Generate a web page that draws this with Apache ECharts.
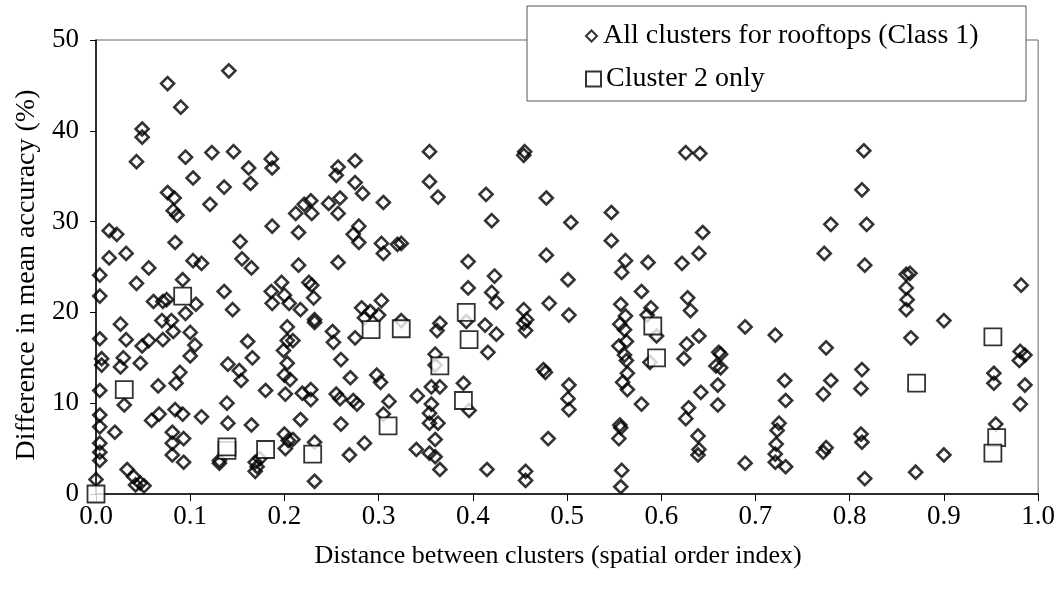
<!DOCTYPE html>
<html>
<head>
<meta charset="utf-8">
<script src="https://cdn.jsdelivr.net/npm/echarts@6/dist/echarts.min.js"></script>
<style>
  html, body { margin: 0; padding: 0; background: #fff; }
  #chart { width: 1058px; height: 599px; }
</style>
</head>
<body>
<div id="chart"></div>
<script>
// Axis ticks
const xTicks = [0, 0.1, 0.2, 0.3, 0.4, 0.5, 0.6, 0.7, 0.8, 0.9, 1.0];
const yTicks = [0, 10, 20, 30, 40, 50];

// All clusters for rooftops (Class 1): [distance, difference %], grouped by distance band
const rooftops00 = [
  [0.000,1.6],[0.004,3.7],[0.004,4.6],[0.004,5.6],[0.004,7.4],[0.004,8.7],[0.004,11.4],[0.006,14.2],[0.006,14.9],[0.004,17.1],[0.004,21.8],[0.004,24.1],
  [0.014,29.0],[0.022,28.6],[0.014,26.0],[0.020,6.8],[0.026,18.7],[0.026,14.0],[0.029,15.0],[0.032,26.5],[0.030,9.8],[0.033,2.7],[0.040,1.9],[0.042,1.0],
  [0.047,1.2],[0.051,0.9],[0.043,23.2],[0.032,17.0],[0.043,36.6],[0.049,40.2],[0.049,39.3],[0.049,16.3],[0.047,14.4],[0.056,24.9],[0.056,16.9],[0.059,8.1],
  [0.061,21.2],[0.067,8.8],[0.066,11.9],[0.070,19.1],[0.071,21.2],[0.075,21.4],[0.071,17.0],[0.076,45.2],[0.076,33.2],[0.083,32.6],[0.082,31.2],[0.086,30.7],
  [0.084,27.7],[0.080,19.1],[0.082,17.9],[0.085,12.2],[0.089,13.4],[0.084,9.3],[0.092,8.8],[0.081,6.8],[0.093,6.1],[0.081,5.6],[0.081,4.3],[0.093,3.5],
  [0.090,42.6],[0.092,23.6],[0.095,19.9],[0.095,37.1]
];
const rooftops01 = [
  [0.100,17.8],[0.105,16.4],[0.100,15.2],[0.106,20.9],[0.103,34.8],[0.103,25.7],[0.112,25.4],[0.112,8.5],[0.121,31.9],[0.123,37.6],[0.136,33.8],[0.136,22.3],
  [0.139,10.0],[0.140,7.8],[0.131,3.4],[0.131,3.7],[0.140,14.3],[0.141,46.6],[0.145,20.3],[0.146,37.7],[0.152,13.6],[0.154,12.5],[0.153,27.8],[0.155,25.9],
  [0.161,16.8],[0.162,35.9],[0.164,34.2],[0.165,24.9],[0.166,15.0],[0.165,7.6],[0.169,3.5],[0.169,2.5],[0.171,3.0],[0.174,3.9],[0.180,11.4],[0.186,22.3],
  [0.187,21.0],[0.186,36.9],[0.187,35.9],[0.187,29.5],[0.197,23.3]
];
const rooftops02 = [
  [0.200,21.9],[0.205,21.0],[0.203,18.4],[0.209,16.9],[0.203,16.9],[0.199,15.8],[0.203,14.4],[0.200,13.1],[0.206,12.6],[0.201,11.0],[0.200,6.6],[0.201,5.0],
  [0.209,6.0],[0.204,5.9],[0.212,30.9],[0.215,28.8],[0.215,25.2],[0.217,20.3],[0.219,11.1],[0.217,8.2],[0.221,31.9],[0.228,32.3],[0.229,30.9],[0.226,23.3],
  [0.229,23.0],[0.231,21.6],[0.232,19.2],[0.232,18.9],[0.228,11.5],[0.228,10.4],[0.232,5.7],[0.232,1.4],[0.247,32.0],[0.255,35.1],[0.257,36.0],[0.257,30.9],
  [0.259,32.6],[0.257,25.5],[0.251,17.9],[0.252,16.7],[0.260,14.8],[0.255,11.0],[0.259,10.5],[0.260,7.7],[0.273,10.3],[0.277,9.9],[0.269,4.3],[0.285,5.6],
  [0.275,36.7],[0.275,34.3],[0.283,33.1],[0.279,29.5],[0.273,28.6],[0.279,27.7],[0.275,17.2],[0.270,12.8],[0.282,20.5],[0.291,20.1],[0.300,19.7],[0.285,19.4],
  [0.298,13.1]
];
const rooftops03 = [
  [0.302,12.3],[0.303,27.6],[0.305,26.5],[0.303,21.3],[0.305,32.1],[0.305,8.8],[0.311,10.2],[0.324,19.1],[0.320,27.5],[0.324,27.6],[0.341,10.8],[0.340,4.9],
  [0.354,37.7],[0.354,34.4],[0.363,32.7],[0.356,11.8],[0.365,11.8],[0.360,15.4],[0.360,14.2],[0.362,18.0],[0.365,18.8],[0.356,9.9],[0.354,8.9],[0.354,7.8],
  [0.363,7.8],[0.360,6.0],[0.354,4.5],[0.360,4.1],[0.365,2.7],[0.390,12.2],[0.396,9.2],[0.393,19.0],[0.395,25.6],[0.395,22.7]
];
const rooftops04 = [
  [0.413,18.6],[0.414,33.0],[0.420,30.1],[0.420,22.2],[0.423,24.0],[0.425,21.1],[0.425,17.6],[0.416,15.6],[0.415,2.7],[0.454,20.3],[0.457,19.2],[0.454,18.8],
  [0.456,18.0],[0.455,37.7],[0.454,37.3],[0.456,2.5],[0.456,1.5],[0.478,32.6],[0.478,26.3],[0.481,21.0],[0.480,6.1],[0.475,13.7],[0.477,13.4]
];
const rooftops05 = [
  [0.504,29.9],[0.501,23.6],[0.502,19.7],[0.502,12.0],[0.501,10.5],[0.502,9.3],[0.547,31.0],[0.547,27.9],[0.562,25.7],[0.558,24.4],[0.586,25.5],[0.579,22.3],
  [0.557,20.9],[0.562,19.6],[0.556,18.7],[0.561,18.1],[0.563,16.8],[0.555,16.3],[0.561,15.3],[0.563,14.7],[0.564,13.3],[0.559,12.3],[0.564,11.5],[0.589,20.5],
  [0.585,19.7],[0.595,17.4],[0.588,14.5],[0.579,9.9],[0.556,7.6],[0.557,7.3],[0.555,6.1],[0.558,2.6],[0.557,0.8]
];
const rooftops06 = [
  [0.626,37.6],[0.641,37.5],[0.644,28.8],[0.640,26.5],[0.622,25.4],[0.628,21.6],[0.631,20.2],[0.640,17.4],[0.627,16.5],[0.624,14.9],[0.661,15.6],[0.663,15.4],
  [0.658,14.1],[0.663,13.9],[0.660,12.0],[0.660,9.8],[0.642,11.2],[0.629,9.5],[0.626,8.3],[0.639,6.4],[0.640,4.9],[0.639,4.3],[0.689,18.4],[0.689,3.4]
];
const rooftops07 = [
  [0.721,17.5],[0.731,12.5],[0.732,10.3],[0.725,7.8],[0.723,7.0],[0.722,5.5],[0.721,4.4],[0.721,3.5],[0.732,3.0],[0.773,26.5],[0.780,29.7],[0.775,16.1],
  [0.780,12.5],[0.772,11.0],[0.775,5.1],[0.772,4.6]
];
const rooftops08 = [
  [0.815,37.8],[0.813,33.5],[0.818,29.7],[0.816,25.2],[0.813,13.7],[0.812,11.6],[0.812,6.6],[0.813,5.7],[0.816,1.7],[0.864,24.3],[0.860,24.2],[0.860,22.7],
  [0.861,21.4],[0.860,20.3],[0.865,17.2],[0.870,2.4],[0.900,19.1],[0.900,4.3],[0.953,13.3],[0.953,12.2],[0.955,7.7],[0.982,23.0],[0.981,15.7],[0.986,15.3],
  [0.980,14.7],[0.986,12.0],[0.981,9.9]
];

// Cluster 2 only
const clusterTwo = [
  [0.000,0.0],[0.030,11.5],[0.092,21.8],[0.139,4.8],[0.139,5.2],[0.180,4.9],[0.230,4.4],[0.292,18.1],[0.310,7.5],[0.324,18.2],
  [0.365,14.1],[0.390,10.3],[0.393,20.0],[0.396,17.0],[0.591,18.5],[0.595,15.0],[0.871,12.2],[0.952,17.3],[0.956,6.2],[0.952,4.5]
];

const allRooftops = [].concat(rooftops00, rooftops01, rooftops02, rooftops03, rooftops04,
                              rooftops05, rooftops06, rooftops07, rooftops08);

const FONT = '"Liberation Serif", "Times New Roman", serif';
const NAME_ALL = 'All clusters for rooftops (Class 1)';
const NAME_C2 = 'Cluster 2 only';

const chart = echarts.init(document.getElementById('chart'), null, { renderer: 'canvas' });

chart.setOption({
  animation: false,
  backgroundColor: '#fff',
  textStyle: { fontFamily: FONT, color: '#000' },
  grid: {
    left: 96, right: 18, top: 40, bottom: 105,
    show: true, borderColor: '#666', borderWidth: 1, backgroundColor: 'transparent'
  },
  graphic: [{
    type: 'rect', z: 3,
    shape: { x: 527, y: 6, width: 499, height: 95 },
    style: { fill: '#fff', stroke: '#555', lineWidth: 1 }
  }],
  legend: [
    {
      z: 5, left: 580, top: 17, itemWidth: 11, itemHeight: 11, itemGap: 8,
      data: [{ name: NAME_ALL, icon: 'diamond' }],
      textStyle: { fontFamily: FONT, fontSize: 28, color: '#000', padding: [0, 0, 0, 1] }
    },
    {
      z: 5, left: 580, top: 60, itemWidth: 15, itemHeight: 15, itemGap: 8,
      data: [{ name: NAME_C2, icon: 'rect' }],
      textStyle: { fontFamily: FONT, fontSize: 28, color: '#000', padding: [0, 0, 0, 0] }
    }
  ],
  xAxis: {
    type: 'value', min: 0, max: 1, interval: 0.1,
    name: 'Distance between clusters (spatial order index)',
    nameLocation: 'middle', nameGap: 49,
    nameTextStyle: { fontFamily: FONT, fontSize: 26, color: '#000', padding: [0, 18, 0, 0] },
    axisLine: { show: true, onZero: false, lineStyle: { color: '#000', width: 1.5 } },
    axisTick: { show: true, length: 7, lineStyle: { color: '#000', width: 1 } },
    axisLabel: {
      fontFamily: FONT, fontSize: 27, color: '#000', margin: 9,
      formatter: v => xTicks.some(t => Math.abs(t - v) < 1e-9) ? v.toFixed(1) : ''
    },
    splitLine: { show: false }
  },
  yAxis: {
    type: 'value', min: 0, max: 50, interval: 10,
    name: 'Difference in mean accuracy (%)',
    nameLocation: 'middle', nameGap: 53,
    nameTextStyle: { fontFamily: FONT, fontSize: 28, color: '#000', padding: [0, 16, 0, 0] },
    axisLine: { show: true, onZero: false, lineStyle: { color: '#000', width: 1.5 } },
    axisTick: { show: true, length: 6, lineStyle: { color: '#000', width: 1 } },
    axisLabel: {
      fontFamily: FONT, fontSize: 27, color: '#000', margin: 17,
      formatter: v => yTicks.includes(v) ? String(v) : ''
    },
    splitLine: { show: false }
  },
  series: [
    {
      name: NAME_ALL, type: 'scatter', clip: false, z: 2,
      symbol: 'diamond', symbolSize: 13,
      itemStyle: { color: 'rgba(255,255,255,0)', borderColor: '#000', borderWidth: 2.6 },
      emphasis: { disabled: true },
      data: allRooftops
    },
    {
      name: NAME_C2, type: 'scatter', clip: false, z: 3,
      symbol: 'rect', symbolSize: 17,
      itemStyle: { color: '#fff', borderColor: '#000', borderWidth: 1.8 },
      emphasis: { disabled: true },
      data: clusterTwo
    }
  ]
});
</script>
</body>
</html>
